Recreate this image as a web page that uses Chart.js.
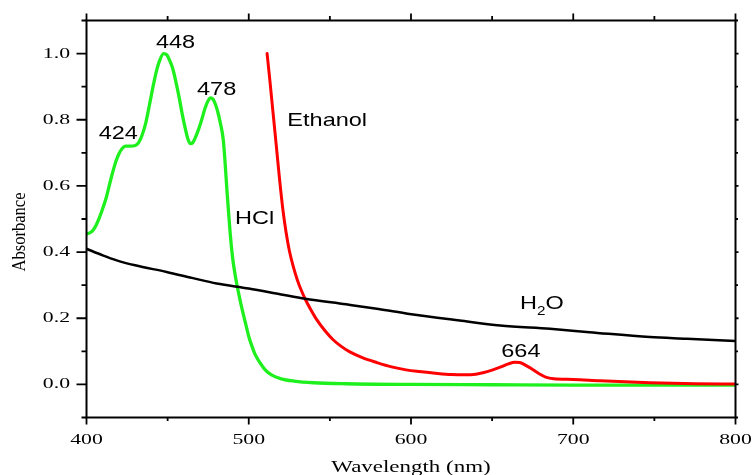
<!DOCTYPE html>
<html>
<head>
<meta charset="utf-8">
<script src="https://cdn.jsdelivr.net/npm/chart.js@4.4.1/dist/chart.umd.min.js"></script>
<style>
    html, body { margin: 0; padding: 0; background: #fff; }
    #wrap { width: 752px; height: 475px; position: relative; }
</style>
</head>
<body>
<div id="wrap"><canvas id="spectraChart"></canvas></div>
<script>
// Spectra: wavelength (nm) and absorbance
const hclWavelength = [400, 402, 404, 406, 408, 410, 412, 415, 418, 420, 422, 424, 427, 430, 432, 434, 436.5, 439, 441, 443, 445, 447.5, 449.5, 451, 453, 455, 457, 459, 461, 462.5, 464, 465.5, 467, 469, 471, 473, 475, 476.5, 478, 479.5, 481, 482.5, 484.3, 487, 488.5, 490, 492, 494, 496, 498, 500, 502, 504, 507, 510, 514, 520, 528, 540, 560, 600, 650, 700, 800];
const hclAbs = [0.455, 0.458, 0.466, 0.482, 0.505, 0.532, 0.562, 0.62, 0.672, 0.697, 0.713, 0.72, 0.72, 0.722, 0.73, 0.75, 0.79, 0.85, 0.9, 0.945, 0.978, 1.0, 0.996, 0.982, 0.957, 0.917, 0.87, 0.817, 0.771, 0.742, 0.728, 0.731, 0.745, 0.77, 0.8, 0.834, 0.858, 0.866, 0.862, 0.846, 0.822, 0.79, 0.739, 0.557, 0.46, 0.385, 0.32, 0.27, 0.225, 0.185, 0.145, 0.115, 0.09, 0.065, 0.045, 0.029, 0.017, 0.01, 0.005, 0.002, 0.0, -0.001, -0.002, -0.002];

const ethanolWavelength = [511.3, 513, 515, 517, 519, 521, 523, 525, 527.5, 530, 532.5, 535, 538, 542, 547, 552, 557, 562, 570, 579, 588, 597, 605, 615, 625, 633, 640, 645, 650, 655, 660, 664, 667, 671, 675, 679, 683, 688, 700, 716.5, 747.3, 775, 800];
const ethanolAbs = [1.0, 0.92, 0.82, 0.72, 0.62, 0.53, 0.46, 0.405, 0.355, 0.315, 0.283, 0.256, 0.228, 0.195, 0.162, 0.135, 0.115, 0.099, 0.081, 0.066, 0.053, 0.044, 0.039, 0.034, 0.03, 0.029, 0.031, 0.036, 0.043, 0.052, 0.062, 0.067, 0.066, 0.057, 0.045, 0.032, 0.022, 0.017, 0.015, 0.011, 0.005, 0.002, 0.001];

const waterWavelength = [400, 410, 418.6, 430, 449.4, 465, 480.2, 500, 520, 534.7, 560, 580, 599, 630, 654.9, 685.7, 710, 747.3, 770, 800];
const waterAbs = [0.41, 0.39, 0.375, 0.36, 0.34, 0.322, 0.305, 0.29, 0.272, 0.259, 0.242, 0.228, 0.213, 0.193, 0.178, 0.168, 0.158, 0.143, 0.138, 0.131];

// Axis ticks
const xMajorTicks = [400, 500, 600, 700, 800];
const xMinorTicks = [450, 550, 650, 750];
const xTickLabels = ['400', '500', '600', '700', '800'];
const yMajorTicks = [0, 0.2, 0.4, 0.6, 0.8, 1.0];
const yMinorTicks = [-0.1, 0.1, 0.3, 0.5, 0.7, 0.9, 1.1];
const yTickLabels = ['0.0', '0.2', '0.4', '0.6', '0.8', '1.0'];

// In-plot labels [text, wavelength, absorbance, align]
const peakLabels = [
    ['448', 454.9, 1.018, 'center'],
    ['478', 480.2, 0.876, 'center'],
    ['424', 419.6, 0.741, 'center'],
    ['664', 667.7, 0.082, 'center'],
    ['Ethanol', 523.8, 0.781, 'left'],
    ['HCl', 491.5, 0.486, 'left']
];
const waterLabel = ['H', '2', 'O', 667.2, 0.229];

function toPoints(xs, ys) {
    return xs.map((x, i) => ({ x: x, y: ys[i] }));
}

// draws text stretched horizontally around (x, y)
function stretchText(ctx, text, x, y, sx, align) {
    ctx.save();
    ctx.translate(x, y);
    ctx.scale(sx, 1);
    ctx.textAlign = align;
    ctx.fillText(text, 0, 0);
    ctx.restore();
}

const axesPlugin = {
    id: 'axesPlugin',
    afterDraw(chart) {
        const ctx = chart.ctx;
        const xs = chart.scales.x;
        const ys = chart.scales.y;
        const a = chart.chartArea;
        ctx.save();
        ctx.strokeStyle = '#000';
        ctx.fillStyle = '#000';
        ctx.lineWidth = 2;
        ctx.strokeRect(a.left, a.top, a.right - a.left, a.bottom - a.top);

        ctx.lineWidth = 1.8;
        ctx.beginPath();
        xMajorTicks.forEach(v => {
            const px = xs.getPixelForValue(v);
            ctx.moveTo(px, a.bottom); ctx.lineTo(px, a.bottom + 7);
            ctx.moveTo(px, a.top); ctx.lineTo(px, a.top - 7);
        });
        xMinorTicks.forEach(v => {
            const px = xs.getPixelForValue(v);
            ctx.moveTo(px, a.bottom); ctx.lineTo(px, a.bottom + 3.5);
            ctx.moveTo(px, a.top); ctx.lineTo(px, a.top - 4.5);
        });
        yMajorTicks.forEach(v => {
            const py = ys.getPixelForValue(v);
            ctx.moveTo(a.left, py); ctx.lineTo(a.left - 10, py);
            ctx.moveTo(a.right, py); ctx.lineTo(a.right + 3, py);
        });
        yMinorTicks.forEach(v => {
            const py = ys.getPixelForValue(v);
            ctx.moveTo(a.left, py); ctx.lineTo(a.left - 5, py);
            ctx.moveTo(a.right, py); ctx.lineTo(a.right + 2.5, py);
        });
        ctx.stroke();

        // tick labels
        ctx.font = '15px "Liberation Serif", "Times New Roman", serif';
        ctx.textBaseline = 'alphabetic';
        xMajorTicks.forEach((v, i) => {
            stretchText(ctx, xTickLabels[i], xs.getPixelForValue(v), a.bottom + 26, 1.45, 'center');
        });
        ctx.textBaseline = 'middle';
        yMajorTicks.forEach((v, i) => {
            stretchText(ctx, yTickLabels[i], a.left - 16.5, ys.getPixelForValue(v), 1.45, 'right');
        });

        // axis titles
        ctx.textBaseline = 'alphabetic';
        ctx.font = '17px "Liberation Serif", "Times New Roman", serif';
        stretchText(ctx, 'Wavelength (nm)', (a.left + a.right) / 2, 472, 1.35, 'center');
        ctx.save();
        ctx.translate(25, 232);
        ctx.rotate(-Math.PI / 2);
        ctx.scale(0.92, 1.05);
        ctx.font = '18px "Liberation Serif", "Times New Roman", serif';
        ctx.textAlign = 'center';
        ctx.fillText('Absorbance', 0, 0);
        ctx.restore();

        // curve labels
        ctx.font = '18.5px "Liberation Sans", Arial, sans-serif';
        peakLabels.forEach(l => {
            stretchText(ctx, l[0], xs.getPixelForValue(l[1]), ys.getPixelForValue(l[2]), 1.27, l[3]);
        });
        let wx = xs.getPixelForValue(waterLabel[3]);
        const wy = ys.getPixelForValue(waterLabel[4]);
        stretchText(ctx, waterLabel[0], wx, wy, 1.27, 'left');
        wx += ctx.measureText(waterLabel[0]).width * 1.27;
        ctx.font = '12px "Liberation Sans", Arial, sans-serif';
        stretchText(ctx, waterLabel[1], wx, wy + 6.5, 1.27, 'left');
        wx += ctx.measureText(waterLabel[1]).width * 1.27;
        ctx.font = '18.5px "Liberation Sans", Arial, sans-serif';
        stretchText(ctx, waterLabel[2], wx, wy, 1.27, 'left');
        ctx.restore();
    }
};

const spectraCtx = document.getElementById('spectraChart').getContext('2d');
new Chart(spectraCtx, {
    type: 'line',
    data: {
        datasets: [
            {
                label: 'H2O',
                data: toPoints(waterWavelength, waterAbs),
                borderColor: '#000000',
                borderWidth: 2.5,
            },
            {
                label: 'Ethanol',
                data: toPoints(ethanolWavelength, ethanolAbs),
                borderColor: '#ff0000',
                borderWidth: 3,
            },
            {
                label: 'HCl',
                data: toPoints(hclWavelength, hclAbs),
                borderColor: '#1ef01e',
                borderWidth: 3.3,
            }
        ]
    },
    options: {
        responsive: true,
        maintainAspectRatio: false,
        animation: false,
        layout: {
            padding: { left: 86.5, right: 16.5, top: 20.5, bottom: 57.5 }
        },
        elements: {
            point: { radius: 0 },
            line: { cubicInterpolationMode: 'monotone', fill: false, borderJoinStyle: 'round', borderCapStyle: 'round' }
        },
        plugins: {
            legend: { display: false },
            tooltip: { enabled: false }
        },
        scales: {
            x: { type: 'linear', min: 400, max: 800, display: false },
            y: { type: 'linear', min: -0.1, max: 1.1, display: false }
        }
    },
    plugins: [axesPlugin]
});
</script>
</body>
</html>
